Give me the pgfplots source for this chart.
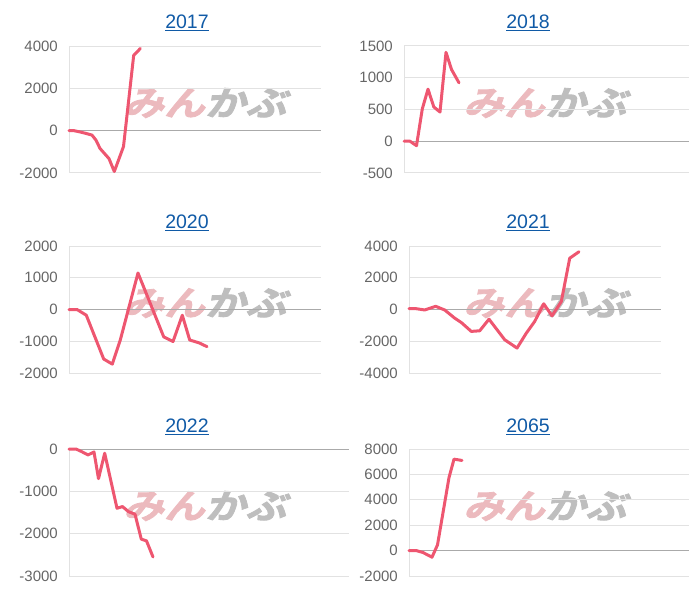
\documentclass[border=0pt]{standalone}
\usepackage{fontspec}
\setmainfont{Liberation Sans}
\newfontfamily\wmfont[FakeSlant=0.25,FakeStretch=1.2,FakeBold=2.5]{Noto Sans CJK JP Bold}
\usepackage{pgfplots}
\pgfplotsset{compat=1.18}

\definecolor{linepink}{RGB}{238,86,112}
\definecolor{titleblue}{RGB}{16,90,166}
\definecolor{gridgray}{RGB}{226,226,226}
\definecolor{zerogray}{RGB}{170,170,170}
\definecolor{labelgray}{RGB}{102,102,102}
\definecolor{wmpink}{RGB}{236,186,190}
\definecolor{wmgray}{RGB}{190,190,190}

\pgfplotsset{
  mini/.style={
    scale only axis,
    height=127pt,
    xmin=0,
    axis x line=none,
    axis y line*=left,
    axis line style={draw=gridgray,-},
    ymajorgrids,
    grid style={draw=gridgray, line width=1pt},
    major tick length=0pt,
    yticklabel style={font=\fontsize{15}{15}\selectfont, text=labelgray, inner sep=0pt, xshift=-11pt},
    /pgf/number format/assume math mode=true,
    /pgf/number format/1000 sep={},
    extra y ticks={0},
    extra y tick labels={},
    extra y tick style={grid style={draw=zerogray, line width=1pt}},
    clip=false,
  },
  pinkline/.style={linepink, line width=3pt, line join=round, line cap=round},
}

\newcommand{\charttitle}[3]{\node[text=titleblue, font=\fontsize{19.5}{20}\selectfont] at (#1pt,#2pt) {\underline{#3}};}
\newcommand{\watermark}[2]{\node[font=\wmfont\fontsize{34}{34}\selectfont, inner sep=0pt] at (#1pt,#2pt) {\textcolor{wmpink}{みん}\textcolor{wmgray}{かぶ}};}

\begin{document}
\begin{tikzpicture}
\useasboundingbox (0pt,0pt) rectangle (700pt,600pt);

\watermark{205}{497}
\watermark{545}{497}
\watermark{205}{297}
\watermark{545}{297}
\watermark{205}{94}
\watermark{545}{94}

\charttitle{187}{577.5}{2017}
\charttitle{528}{577.5}{2018}
\charttitle{187}{377.5}{2020}
\charttitle{528}{377.5}{2021}
\charttitle{187}{173.5}{2022}
\charttitle{528}{173.5}{2065}

% 2017
\begin{axis}[mini, at={(69pt,427pt)}, anchor=south west, width=252pt, xmax=252,
  ymin=-2000, ymax=4000, ytick={-2000,0,2000,4000}]
\addplot[pinkline] coordinates {
(0,0)(5,0)(11,-60)(17,-130)(23,-210)(27,-450)(31,-840)(35.5,-1080)(40,-1320)
(45.3,-1930)(51,-1200)(54.5,-750)(64.7,3560)(71.3,3880)};
\end{axis}

% 2018
\begin{axis}[mini, at={(404pt,427pt)}, anchor=south west, width=285pt, xmax=285,
  ymin=-500, ymax=1500, ytick={-500,0,500,1000,1500}]
\addplot[pinkline] coordinates {
(0,0)(6,0)(12.5,-70)(18.3,510)(24,820)(29.8,540)(36,460)(42,1400)(47.5,1130)(55,920)};
\end{axis}

% 2020
\begin{axis}[mini, at={(69pt,227pt)}, anchor=south west, width=252pt, xmax=252,
  ymin=-2000, ymax=2000, ytick={-2000,-1000,0,1000,2000}]
\addplot[pinkline] coordinates {
(0,0)(8,0)(17.3,-180)(34.7,-1560)(43.3,-1720)(51.3,-960)(69,1150)(94.7,-860)
(104,-1010)(113.3,-180)(120.7,-960)(130,-1050)(138,-1170)};
\end{axis}

% 2021
\begin{axis}[mini, at={(409pt,227pt)}, anchor=south west, width=252pt, xmax=252,
  ymin=-4000, ymax=4000, ytick={-4000,-2000,0,2000,4000}]
\addplot[pinkline] coordinates {
(0,50)(7.3,50)(15.7,-30)(26.7,200)(35.7,-30)(45.7,-545)(52.3,-820)(62.3,-1380)
(70.7,-1340)(80,-610)(95.7,-1905)(108,-2430)(117.3,-1490)(125.7,-750)(134.7,360)
(143,-400)(152.3,500)(160.7,3230)(170,3640)};
\end{axis}

% 2022
\begin{axis}[mini, at={(69pt,24pt)}, anchor=south west, width=280pt, xmax=280,
  ymin=-3000, ymax=0, ytick={-3000,-2000,-1000,0}]
\addplot[pinkline] coordinates {
(0,0)(7,0)(12.5,-60)(19,-140)(25,-70)(29.5,-700)(35.7,-100)(48,-1400)(53.5,-1360)
(59.5,-1480)(66,-1540)(72.3,-2130)(77.5,-2170)(84,-2550)};
\end{axis}

% 2065
\begin{axis}[mini, at={(409pt,24pt)}, anchor=south west, width=280pt, xmax=280,
  ymin=-2000, ymax=8000, ytick={-2000,0,2000,4000,6000,8000}]
\addplot[pinkline] coordinates {
(0,0)(7.3,0)(14,-150)(23,-520)(28.5,450)(40,5750)(45,7200)(53,7100)};
\end{axis}

\end{tikzpicture}
\end{document}
